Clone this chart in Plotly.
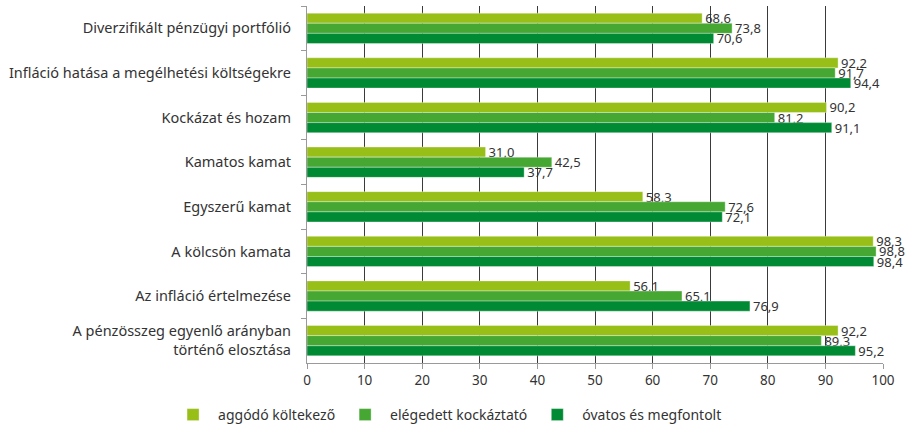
import plotly.graph_objects as go

categories = [
    "Diverzifikált pénzügyi portfólió",
    "Infláció hatása a megélhetési költségekre",
    "Kockázat és hozam",
    "Kamatos kamat",
    "Egyszerű kamat",
    "A kölcsön kamata",
    "Az infláció értelmezése",
    "A pénzösszeg egyenlő arányban<br>történő elosztása",
]
series_names = ["aggódó költekező", "elégedett kockáztató", "óvatos és megfontolt"]
aggodo = [68.6, 92.2, 90.2, 31.0, 58.3, 98.3, 56.1, 92.2]
elegedett = [73.8, 91.7, 81.2, 42.5, 72.6, 98.8, 65.1, 89.3]
ovatos = [70.6, 94.4, 91.1, 37.7, 72.1, 98.4, 76.9, 95.2]
colors = ["#97BF17", "#46A832", "#008A33"]
x_ticks = [0, 10, 20, 30, 40, 50, 60, 70, 80, 90, 100]

FONT = "Noto Sans"
fig = go.Figure()
for name, vals, col in zip(series_names, [aggodo, elegedett, ovatos], colors):
    fig.add_trace(go.Bar(
        y=categories, x=vals, name=name, orientation="h",
        marker=dict(color=col, line=dict(color="rgba(255,255,255,0.6)", width=0.6)),
        text=[f"{v:.1f}".replace(".", ",") for v in vals],
        textposition="outside", cliponaxis=False, constraintext="none", textangle=0,
        textfont=dict(family=FONT, size=13, color="#333333"),
    ))

fig.update_layout(
    width=919, height=431,
    margin=dict(l=307, r=36, t=6, b=68),
    barmode="group", bargap=0.32, bargroupgap=0,
    plot_bgcolor="white", paper_bgcolor="white",
    font=dict(family=FONT, size=14, color="#333333"),
    legend=dict(orientation="h", xref="container", x=0.487, xanchor="center",
                yref="container", y=0.0, yanchor="bottom",
                font=dict(family=FONT, size=14, color="#333333"),
                traceorder="normal", itemwidth=40),
)
fig.update_xaxes(
    range=[0, 100], tickvals=x_ticks, ticktext=[str(t) for t in x_ticks],
    showgrid=True, gridcolor="#3a3a3a", gridwidth=1, zeroline=False,
    showline=True, linecolor="#9a9a9a", linewidth=1.2,
    ticks="outside", ticklen=5, tickcolor="#9a9a9a", automargin=False,
    tickfont=dict(family=FONT, size=13.5, color="#333333"),
)
fig.update_yaxes(
    autorange="reversed", showgrid=False, showline=True, linecolor="#9a9a9a", linewidth=1.2,
    ticks="outside", tickson="boundaries", ticklen=5, tickcolor="#9a9a9a",
    automargin=False, ticklabelstandoff=12,
    tickfont=dict(family=FONT, size=14.5, color="#333333"),
)

fig.write_html("out.html", config={"displayModeBar": False},
               post_script="document.body.style.margin='0';")
